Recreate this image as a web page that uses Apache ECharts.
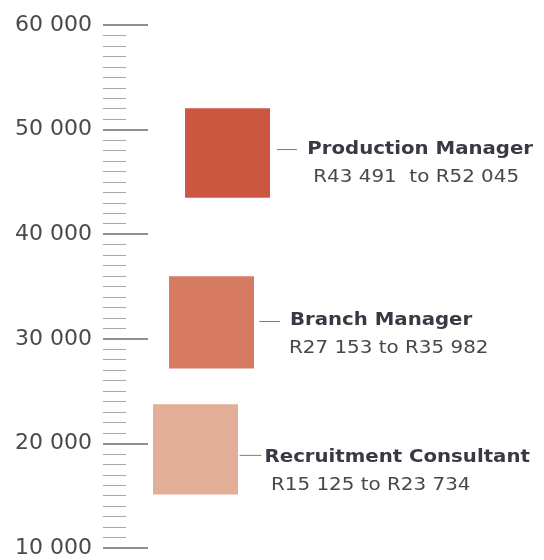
<!DOCTYPE html>
<html><head><meta charset="utf-8">
<script src="https://cdn.jsdelivr.net/npm/echarts@6/dist/echarts.min.js"></script>
<style>html,body{margin:0;padding:0;background:#fff}#c{width:544px;height:560px}</style>
</head><body><div id="c"></div>
<script>
// ---- data ----
const roles = ['Recruitment Consultant', 'Branch Manager', 'Production Manager'];
const lowSalary = [15125, 27153, 43491];
const highSalary = [23734, 35982, 52045];
const rangeLabels = ['R15 125 to R23 734', 'R27 153 to R35 982', 'R43 491  to R52 045'];
const axisMin = 10000, axisMax = 60000, axisStep = 10000;

// ---- styles ----
const colors = ['#E3AE98', '#D67B61', '#CB5741'];
// gap: box edge -> connector, lineLen, nameGap: connector end -> name, rangeIndent, dy: name centre vs box centre, lineDy
const labelStyle = [
  { gap: 1.6, lineLen: 21.7, nameGap: 3.3, rangeIndent: 6.4, dy: 8.7, lineDy: -2.7 },
  { gap: 5.3, lineLen: 20.7, nameGap: 10, rangeIndent: -1, dy: -1.4, lineDy: 0.5 },
  { gap: 7, lineLen: 20, nameGap: 10.3, rangeIndent: 6, dy: -2.9, lineDy: -0.5 }
];
const GRID_LEFT = 103, FIRST_X = 50, STEP_X = 16, BOX_W = 85;
const RANGE_DY = 27.8, TEXT_SCALE = 1.16, RANGE_SCALE = 1.17;

const chart = echarts.init(document.getElementById('c'));
const data = roles.map((r, i) => [i, lowSalary[i], highSalary[i]]);

chart.setOption({
  animation: false,
  grid: { left: GRID_LEFT, right: 0, top: 25, bottom: 12 },
  xAxis: { type: 'value', min: 0, max: 1, show: false },
  yAxis: {
    type: 'value', min: axisMin, max: axisMax, interval: axisStep,
    axisLine: { show: false },
    splitLine: { show: false },
    axisTick: { show: true, inside: true, length: 45, lineStyle: { color: '#8e8e8e', width: 2 } },
    minorTick: { show: true, splitNumber: 10, length: 23, lineStyle: { color: '#a8a8a8', width: 1 } },
    axisLabel: {
      margin: 11, fontFamily: 'DejaVu Sans', fontWeight: 'normal', fontSize: 22, color: '#4a4a4a',
      formatter: v => String(v).replace(/\B(?=(\d{3})+(?!\d))/g, ' ')
    }
  },
  series: [{
    type: 'custom',
    data: data,
    renderItem: function (params, api) {
      const i = api.value(0);
      const top = api.coord([0, api.value(2)])[1];
      const bot = api.coord([0, api.value(1)])[1];
      const x0 = GRID_LEFT + FIRST_X + i * STEP_X;
      const ls = labelStyle[i];
      const right = x0 + BOX_W;
      const cy = (top + bot) / 2 + ls.dy;
      const lx1 = right + ls.gap, lx2 = lx1 + ls.lineLen;
      const nx = lx2 + ls.nameGap;
      return {
        type: 'group',
        children: [
          { type: 'rect', shape: { x: x0, y: top, width: BOX_W, height: bot - top }, style: { fill: colors[i] } },
          { type: 'line', shape: { x1: lx1, y1: cy + ls.lineDy, x2: lx2, y2: cy + ls.lineDy }, style: { stroke: '#7a7a7a', lineWidth: 1 } },
          { type: 'text', x: nx, y: cy, scaleX: TEXT_SCALE, style: { x: 0, y: 0, text: roles[i], fill: '#373a42', font: 'bold 17px "DejaVu Sans"', textVerticalAlign: 'middle', textAlign: 'left' } },
          { type: 'text', x: nx + ls.rangeIndent, y: cy + RANGE_DY, scaleX: RANGE_SCALE, style: { x: 0, y: 0, text: rangeLabels[i], fill: '#46484e', font: 'normal 17px "DejaVu Sans"', textVerticalAlign: 'middle', textAlign: 'left' } }
        ]
      };
    }
  }]
});
</script></body></html>
